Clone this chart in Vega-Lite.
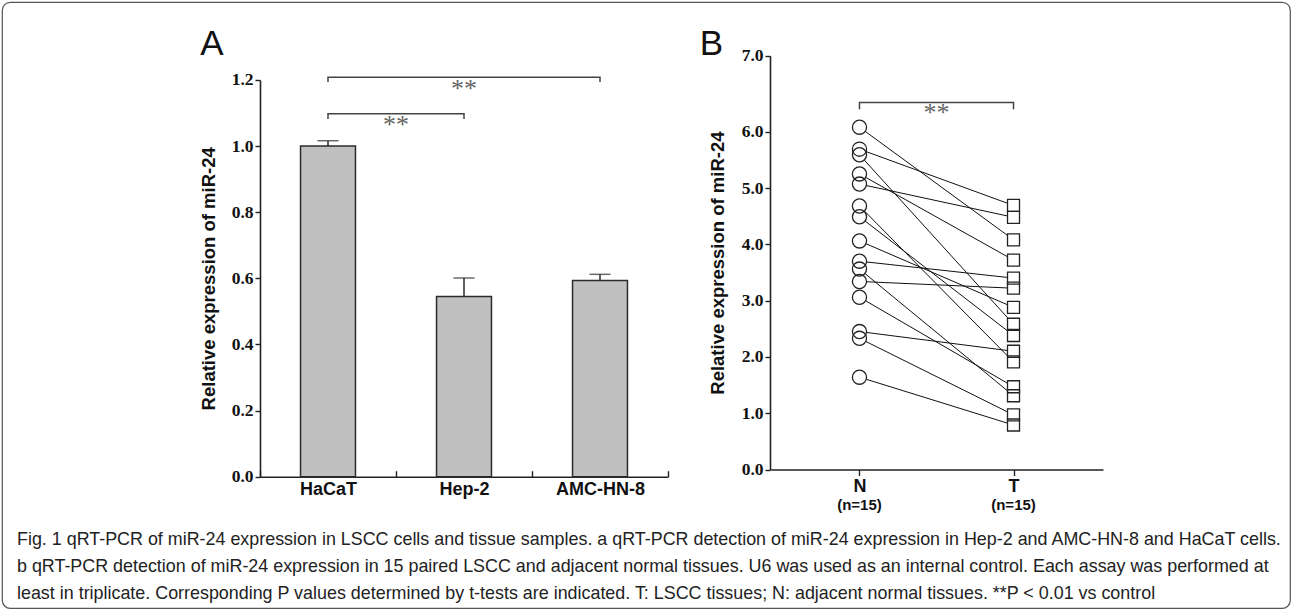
{
  "$schema": "https://vega.github.io/schema/vega-lite/v6.json",
  "width": 1288,
  "height": 606,
  "padding": 2,
  "background": "white",
  "config": {
    "view": {"stroke": "#555", "strokeWidth": 1.2, "cornerRadius": 8},
    "axis": {
      "grid": false,
      "domainColor": "#222",
      "tickColor": "#222",
      "domainWidth": 1.6,
      "tickWidth": 1.4,
      "labelColor": "#111",
      "titleColor": "#111"
    }
  },
  "title": {
    "text": [
      "Fig. 1 qRT-PCR of miR-24 expression in LSCC cells and tissue samples. a qRT-PCR detection of miR-24 expression in Hep-2 and AMC-HN-8 and HaCaT cells.",
      "b qRT-PCR detection of miR-24 expression in 15 paired LSCC and adjacent normal tissues. U6 was used as an internal control. Each assay was performed at",
      "least in triplicate. Corresponding P values determined by t-tests are indicated. T: LSCC tissues; N: adjacent normal tissues. **P < 0.01 vs control"
    ],
    "orient": "bottom",
    "anchor": "start",
    "frame": "group",
    "offset": -77,
    "dx": 15,
    "font": "Liberation Sans",
    "fontSize": 17.9,
    "fontWeight": "normal",
    "color": "#222",
    "lineHeight": 27,
    "baseline": "top"
  },
  "datasets": {
    "bars": [
      {"cell": "HaCaT", "mean": 1.0, "upper": 1.016},
      {"cell": "Hep-2", "mean": 0.545, "upper": 0.601},
      {"cell": "AMC-HN-8", "mean": 0.593, "upper": 0.612}
    ],
    "brackets": [
      {"b": "upper", "s": 1, "cell": "HaCaT", "y": 1.194},
      {"b": "upper", "s": 2, "cell": "HaCaT", "y": 1.208},
      {"b": "upper", "s": 3, "cell": "AMC-HN-8", "y": 1.208},
      {"b": "upper", "s": 4, "cell": "AMC-HN-8", "y": 1.194},
      {"b": "lower", "s": 1, "cell": "HaCaT", "y": 1.082},
      {"b": "lower", "s": 2, "cell": "HaCaT", "y": 1.098},
      {"b": "lower", "s": 3, "cell": "Hep-2", "y": 1.098},
      {"b": "lower", "s": 4, "cell": "Hep-2", "y": 1.082}
    ],
    "pairs": [
      {"id": 1, "tissue": "N", "value": 6.08}, {"id": 1, "tissue": "T", "value": 4.08},
      {"id": 2, "tissue": "N", "value": 5.69}, {"id": 2, "tissue": "T", "value": 4.69},
      {"id": 3, "tissue": "N", "value": 5.59}, {"id": 3, "tissue": "T", "value": 2.58},
      {"id": 4, "tissue": "N", "value": 5.25}, {"id": 4, "tissue": "T", "value": 3.72},
      {"id": 5, "tissue": "N", "value": 5.07}, {"id": 5, "tissue": "T", "value": 4.48},
      {"id": 6, "tissue": "N", "value": 4.68}, {"id": 6, "tissue": "T", "value": 1.91},
      {"id": 7, "tissue": "N", "value": 4.49}, {"id": 7, "tissue": "T", "value": 2.38},
      {"id": 8, "tissue": "N", "value": 4.06}, {"id": 8, "tissue": "T", "value": 2.88},
      {"id": 9, "tissue": "N", "value": 3.70}, {"id": 9, "tissue": "T", "value": 3.40},
      {"id": 10, "tissue": "N", "value": 3.56}, {"id": 10, "tissue": "T", "value": 1.31},
      {"id": 11, "tissue": "N", "value": 3.34}, {"id": 11, "tissue": "T", "value": 3.22},
      {"id": 12, "tissue": "N", "value": 3.06}, {"id": 12, "tissue": "T", "value": 1.47},
      {"id": 13, "tissue": "N", "value": 2.45}, {"id": 13, "tissue": "T", "value": 2.10},
      {"id": 14, "tissue": "N", "value": 2.33}, {"id": 14, "tissue": "T", "value": 0.97},
      {"id": 15, "tissue": "N", "value": 1.64}, {"id": 15, "tissue": "T", "value": 0.79}
    ],
    "bbracket": [
      {"s": 1, "tissue": "N", "y": 6.40},
      {"s": 2, "tissue": "N", "y": 6.52},
      {"s": 3, "tissue": "T", "y": 6.52},
      {"s": 4, "tissue": "T", "y": 6.40}
    ],
    "groups": [
      {"tissue": "N", "n": "(n=15)"},
      {"tissue": "T", "n": "(n=15)"}
    ]
  },
  "layer": [
    {
      "layer": [
        {
          "data": {"name": "bars"},
          "mark": {"type": "bar", "fill": "#c0c0c0", "stroke": "#2b2b2b", "strokeWidth": 1.5, "width": {"band": 0.404}},
          "encoding": {
            "x": {
              "field": "cell", "type": "nominal",
              "scale": {"domain": ["HaCaT", "Hep-2", "AMC-HN-8"], "range": [258, 666], "paddingInner": 0, "paddingOuter": 0},
              "axis": {
                "orient": "bottom", "offset": -131.3, "title": null, "labelAngle": 0,
                "tickBand": "extent", "tickSize": -6, "labelPadding": 10,
                "labelFont": "Liberation Sans", "labelFontWeight": "bold", "labelFontSize": 18
              }
            },
            "y": {
              "field": "mean", "type": "quantitative",
              "scale": {"domain": [0, 1.2], "range": [474.7, 77.9], "nice": false},
              "axis": {
                "orient": "left", "offset": -258, "values": [0, 0.2, 0.4, 0.6, 0.8, 1, 1.2], "format": ".1f",
                "tickSize": 5, "labelPadding": 2,
                "labelFont": "Liberation Serif", "labelFontWeight": "bold", "labelFontSize": 17.5,
                "title": "Relative expression of miR-24", "titleFont": "Liberation Sans", "titleFontWeight": "bold",
                "titleFontSize": 18.5, "titlePadding": 13
              }
            }
          }
        },
        {
          "data": {"name": "bars"},
          "mark": {"type": "rule", "color": "#2b2b2b", "strokeWidth": 1.5},
          "encoding": {
            "x": {"field": "cell", "type": "nominal"},
            "y": {"field": "mean", "type": "quantitative"},
            "y2": {"field": "upper"}
          }
        },
        {
          "data": {"name": "bars"},
          "mark": {"type": "tick", "size": 21, "thickness": 1.5, "color": "#2b2b2b"},
          "encoding": {
            "x": {"field": "cell", "type": "nominal"},
            "y": {"field": "upper", "type": "quantitative"}
          }
        },
        {
          "data": {"name": "brackets"},
          "mark": {"type": "line", "color": "#444", "strokeWidth": 1.5},
          "encoding": {
            "x": {"field": "cell", "type": "nominal"},
            "y": {"field": "y", "type": "quantitative"},
            "detail": {"field": "b"},
            "order": {"field": "s"}
          }
        },
        {
          "data": {"values": [{"stars": "**"}]},
          "mark": {"type": "text", "font": "Liberation Serif", "fontSize": 26, "color": "#666", "baseline": "middle", "dy": 3},
          "encoding": {
            "x": {"datum": "Hep-2"},
            "y": {"datum": 1.182},
            "text": {"field": "stars"}
          }
        },
        {
          "data": {"values": [{"stars": "**"}]},
          "mark": {"type": "text", "font": "Liberation Serif", "fontSize": 26, "color": "#666", "baseline": "middle", "dy": 3, "dx": 68},
          "encoding": {
            "x": {"datum": "HaCaT"},
            "y": {"datum": 1.073},
            "text": {"field": "stars"}
          }
        },
        {
          "data": {"values": [{"label": "A"}]},
          "mark": {"type": "text", "font": "Liberation Sans", "fontSize": 35, "color": "#111", "baseline": "alphabetic", "align": "center", "dx": -116},
          "encoding": {
            "x": {"datum": "HaCaT"},
            "y": {"datum": 1.275},
            "text": {"field": "label"}
          }
        }
      ]
    },
    {
      "layer": [
        {
          "data": {"name": "pairs"},
          "mark": {"type": "line", "color": "#111", "strokeWidth": 1},
          "encoding": {
            "x": {
              "field": "tissue", "type": "nominal",
              "scale": {"domain": ["N", "T"], "range": [768, 1101], "padding": 0.581},
              "axis": {
                "orient": "bottom", "offset": -138.5, "title": null, "labelAngle": 0,
                "tickSize": 6, "labelPadding": 2,
                "labelFont": "Liberation Sans", "labelFontWeight": "bold", "labelFontSize": 18
              }
            },
            "y": {
              "field": "value", "type": "quantitative",
              "scale": {"domain": [0, 7.35], "range": [467.5, 53.7], "nice": false},
              "axis": {
                "orient": "left", "offset": -768, "values": [0, 1, 2, 3, 4, 5, 6, 7.35],
                "labelExpr": "datum.value > 7 ? '7.0' : format(datum.value, '.1f')",
                "tickSize": 5, "labelPadding": 2,
                "labelFont": "Liberation Serif", "labelFontWeight": "bold", "labelFontSize": 17.5,
                "title": "Relative expression of miR-24", "titleFont": "Liberation Sans", "titleFontWeight": "bold",
                "titleFontSize": 18.5, "titlePadding": 14
              }
            },
            "detail": {"field": "id"}
          }
        },
        {
          "data": {"name": "pairs"},
          "transform": [{"filter": "datum.tissue == 'N'"}],
          "mark": {"type": "point", "shape": "circle", "size": 200, "filled": true, "color": "white", "opacity": 1},
          "encoding": {
            "x": {"field": "tissue", "type": "nominal"},
            "y": {"field": "value", "type": "quantitative"}
          }
        },
        {
          "data": {"name": "pairs"},
          "transform": [{"filter": "datum.tissue == 'N'"}],
          "mark": {"type": "point", "shape": "circle", "size": 200, "filled": false, "color": "#222", "strokeWidth": 1.3, "opacity": 1},
          "encoding": {
            "x": {"field": "tissue", "type": "nominal"},
            "y": {"field": "value", "type": "quantitative"}
          }
        },
        {
          "data": {"name": "pairs"},
          "transform": [{"filter": "datum.tissue == 'T'"}],
          "mark": {"type": "point", "shape": "square", "size": 144, "filled": true, "color": "white", "opacity": 1},
          "encoding": {
            "x": {"field": "tissue", "type": "nominal"},
            "y": {"field": "value", "type": "quantitative"}
          }
        },
        {
          "data": {"name": "pairs"},
          "transform": [{"filter": "datum.tissue == 'T'"}],
          "mark": {"type": "point", "shape": "square", "size": 144, "filled": false, "color": "#222", "strokeWidth": 1.3, "opacity": 1},
          "encoding": {
            "x": {"field": "tissue", "type": "nominal"},
            "y": {"field": "value", "type": "quantitative"}
          }
        },
        {
          "data": {"name": "bbracket"},
          "mark": {"type": "line", "color": "#444", "strokeWidth": 1.5},
          "encoding": {
            "x": {"field": "tissue", "type": "nominal"},
            "y": {"field": "y", "type": "quantitative"},
            "order": {"field": "s"}
          }
        },
        {
          "data": {"values": [{"stars": "**"}]},
          "mark": {"type": "text", "font": "Liberation Serif", "fontSize": 26, "color": "#666", "baseline": "middle", "dy": 3, "dx": 77},
          "encoding": {
            "x": {"datum": "N"},
            "y": {"datum": 6.38},
            "text": {"field": "stars"}
          }
        },
        {
          "data": {"name": "groups"},
          "mark": {"type": "text", "font": "Liberation Sans", "fontWeight": "bold", "fontSize": 15, "color": "#111", "baseline": "middle", "dy": 35.5},
          "encoding": {
            "x": {"field": "tissue", "type": "nominal"},
            "y": {"datum": 0},
            "text": {"field": "n"}
          }
        },
        {
          "data": {"values": [{"label": "B"}]},
          "mark": {"type": "text", "font": "Liberation Sans", "fontSize": 35, "color": "#111", "baseline": "alphabetic", "align": "center", "dx": -148},
          "encoding": {
            "x": {"datum": "N"},
            "y": {"datum": 7.36},
            "text": {"field": "label"}
          }
        }
      ]
    }
  ],
  "resolve": {"scale": {"x": "independent", "y": "independent"}}
}
